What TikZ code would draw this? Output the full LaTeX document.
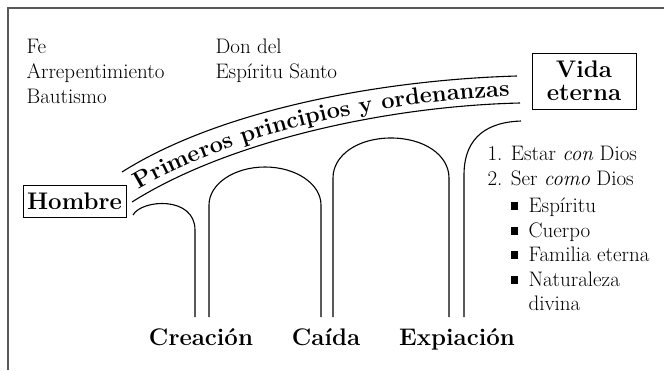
\documentclass[tikz,border=0pt]{standalone}
\usepackage{amssymb}
\usetikzlibrary{decorations.text}
\tikzset{
  caja/.style={draw,line width=0.8pt,inner sep=0pt,font=\fontsize{24}{23}\selectfont\bfseries},
  pilar/.style={line width=1.1pt},
  etiqueta/.style={anchor=base,font=\fontsize{24}{24}\selectfont\bfseries},
  texto/.style={anchor=base west,font=\fontsize{21}{25}\selectfont},
}
\begin{document}
\begin{tikzpicture}[x=1pt,y=-1pt]
        \useasboundingbox(0,0)rectangle(664,370);
        \draw[line width=1.2pt,black!65](664,8)--(8,8)--(8,370);
        % cajas
        \node[caja,minimum width=103pt,minimum height=32pt](hombre)at(74.5,201){Hombre};
        \node[caja,minimum width=104pt,minimum height=56pt,align=center](vida)at(584,81){Vida\\eterna};
        % banda
        \draw[pilar](122,172)..controls(220,110)and(380,80)..(517,76);
        \draw[pilar](132,202)..controls(230,140)and(390,106)..(520,103);
        \path[decorate,decoration={text along path,text align=center,
          text={|\fontsize{23.5}{23}\selectfont\bfseries|Primeros principios y ordenanzas}}]
          (130,195)..controls(228,133)and(390,99)..(520,96);
        % arcos
        \draw[pilar](133,215)..controls(142,199)and(195,196)..(195,230)--(195,317);
        \draw[pilar](209,317)--(209,205)..controls(209,184)and(234,167)..(265,167)
          ..controls(296,167)and(321,184)..(321,205)--(321,317);
        \draw[pilar](333,317)--(333,178)..controls(333,155)and(358,138)..(391,138)
          ..controls(424,138)and(449,155)..(449,178)--(449,317);
        \draw[pilar](464,317)--(464,175)..controls(464,135)and(490,122)..(521,121);
        \node[etiqueta](creacion)at(201,345){Creación};
        \node[etiqueta](caida)at(326,345){Caída};
        \node[etiqueta](expiacion)at(457,345){Expiación};
        % textos
        \foreach \t [count=\i] in {Fe,Arrepentimiento,Bautismo}
          \node[texto](izq\i)at(23,28+25*\i){\t};
        \node[texto](don1)at(212,53){Don del};
        \node[texto](don2)at(212,78){Espíritu Santo};
        \node[texto](meta1)at(484,160){1. Estar \textit{con} Dios};
        \node[texto](meta2)at(484,185){2. Ser \textit{como} Dios};
        \foreach \t/\y [count=\i] in {Espíritu/212,Cuerpo/237,Familia eterna/261,Naturaleza/286}
          \node[texto](vineta\i)at(507,\y){\rule[2.5pt]{7.5pt}{7.5pt}\hspace{10.5pt}\t};
        \node[texto](divina)at(525,310){divina};
\end{tikzpicture}
\end{document}
